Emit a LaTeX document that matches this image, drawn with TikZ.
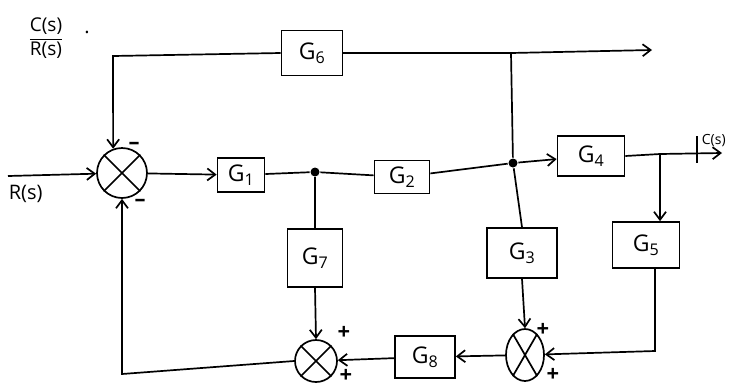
\documentclass[tikz,border=0pt]{standalone}
\usepackage{amsmath}
\usepackage{fontspec}
\setmainfont{Open Sans}
\usetikzlibrary{arrows.meta,shapes.geometric}
\begin{document}
\begin{tikzpicture}[x=1pt,y=-1pt,line width=1.7pt,
  blk/.style 2 args={draw,minimum width=#1,minimum height=#2,inner sep=0pt,font=\fontsize{23}{23}\selectfont},
  sumc/.style={draw,circle,minimum size=#1,inner sep=0pt},
  sume/.style 2 args={draw,ellipse,minimum width=#1,minimum height=#2,inner sep=0pt},
  arr/.style={-{Straight Barb[length=8pt,width=12pt]}},
  lbl/.style={font=\fontsize{20}{20}\selectfont,inner sep=0pt},
  sgn/.style={font=\fontsize{22}{22}\selectfont\bfseries,inner sep=0pt},
  dotn/.style={circle,fill,minimum size=9pt,inner sep=0pt}]
\useasboundingbox (0,0) rectangle (735,389);

% nodes
\node[sumc=50pt] (S1) at (122,173) {};
\node[blk={47pt}{34pt}] (G1) at (241,175) {G\textsubscript{1}};
\node[dotn] (d1) at (315,172) {};
\node[blk={55pt}{33pt}] (G2) at (402,177) {G\textsubscript{2}};
\node[dotn] (d2) at (513,163) {};
\node[blk={67pt}{40pt}] (G4) at (591,156) {G\textsubscript{4}};
\node[blk={67pt}{46pt}] (G5) at (646,245) {G\textsubscript{5}};
\node[blk={70pt}{50pt}] (G3) at (522,253) {G\textsubscript{3}};
\node[sume={38pt}{52pt}] (S2) at (525,355) {};
\node[blk={60pt}{42pt}] (G8) at (425,357) {G\textsubscript{8}};
\node[sumc=42pt] (S3) at (316,361) {};
\node[blk={55pt}{58pt}] (G7) at (315,258) {G\textsubscript{7}};
\node[blk={61pt}{45pt}] (G6) at (312,53) {G\textsubscript{6}};

\coordinate (in) at (8,176);
\coordinate (c4) at (660,154);
\coordinate (out) at (722,153);
\coordinate (tk1) at (697,136);
\coordinate (tk2) at (697,163);
\coordinate (c5) at (655,351);
\coordinate (tj) at (511,53);
\coordinate (topend) at (652,50);
\coordinate (ctl) at (113,56);
\coordinate (cbl) at (122,374);

% crosses
\draw (S1.45) -- (S1.225) (S1.135) -- (S1.315);
\draw (S3.45) -- (S3.225) (S3.135) -- (S3.315);
\draw (S2.60) -- (S2.240) (S2.120) -- (S2.300);

% connectors
\draw[arr] (in) -- (S1);
\draw[arr] (S1) -- (G1);
\draw (G1) -- (d1);
\draw (d1) -- (G2);
\draw (G2) -- (d2);
\draw[arr] (d2) -- (G4);
\draw (G4.east) -- (c4);
\draw[arr] (c4) -- (out);
\draw (tk1) -- (tk2);
\draw[arr] (c4) -- (G5.north -| c4);
\draw[arr] (G5.south -| c5) -- (c5) -- (S2);
\draw (d2) -- (G3.north);
\draw (tj) -- (d2);
\draw[arr] (G3.south) -- (S2.north);
\draw[arr] (S2) -- (G8);
\draw[arr] (G8) -- (S3);
\draw[arr] (S3.west) -- (cbl) -- (S1.south);
\draw (d1) -- (G7.north);
\draw[arr] (G7.south) -- (S3.north);
\draw[arr] (G6.west) -- (ctl) -- (S1.110);
\draw (G6.east) -- (tj);
\draw[arr] (tj) -- (topend);

% labels
\node[lbl,anchor=west] (Rs) at (8,194) {R(s)};
\node[lbl,anchor=west,font=\fontsize{14}{14}\selectfont] (Cs) at (701,141) {C(s)};
\node[lbl,font=\fontsize{19}{19}\selectfont] (tf) at (46,38) {$\dfrac{\text{C(s)}}{\text{R(s)}}$};
\node[lbl] (tfd) at (87,32) {.};
\node[sgn] (m1) at (134,146) {--};
\node[sgn] (m2) at (140,203) {--};
\node[sgn] (p1) at (344,333) {+};
\node[sgn] (p2) at (346,376) {+};
\node[sgn] (p3) at (543,330) {+};
\node[sgn] (p4) at (553,375) {+};
\end{tikzpicture}
\end{document}
